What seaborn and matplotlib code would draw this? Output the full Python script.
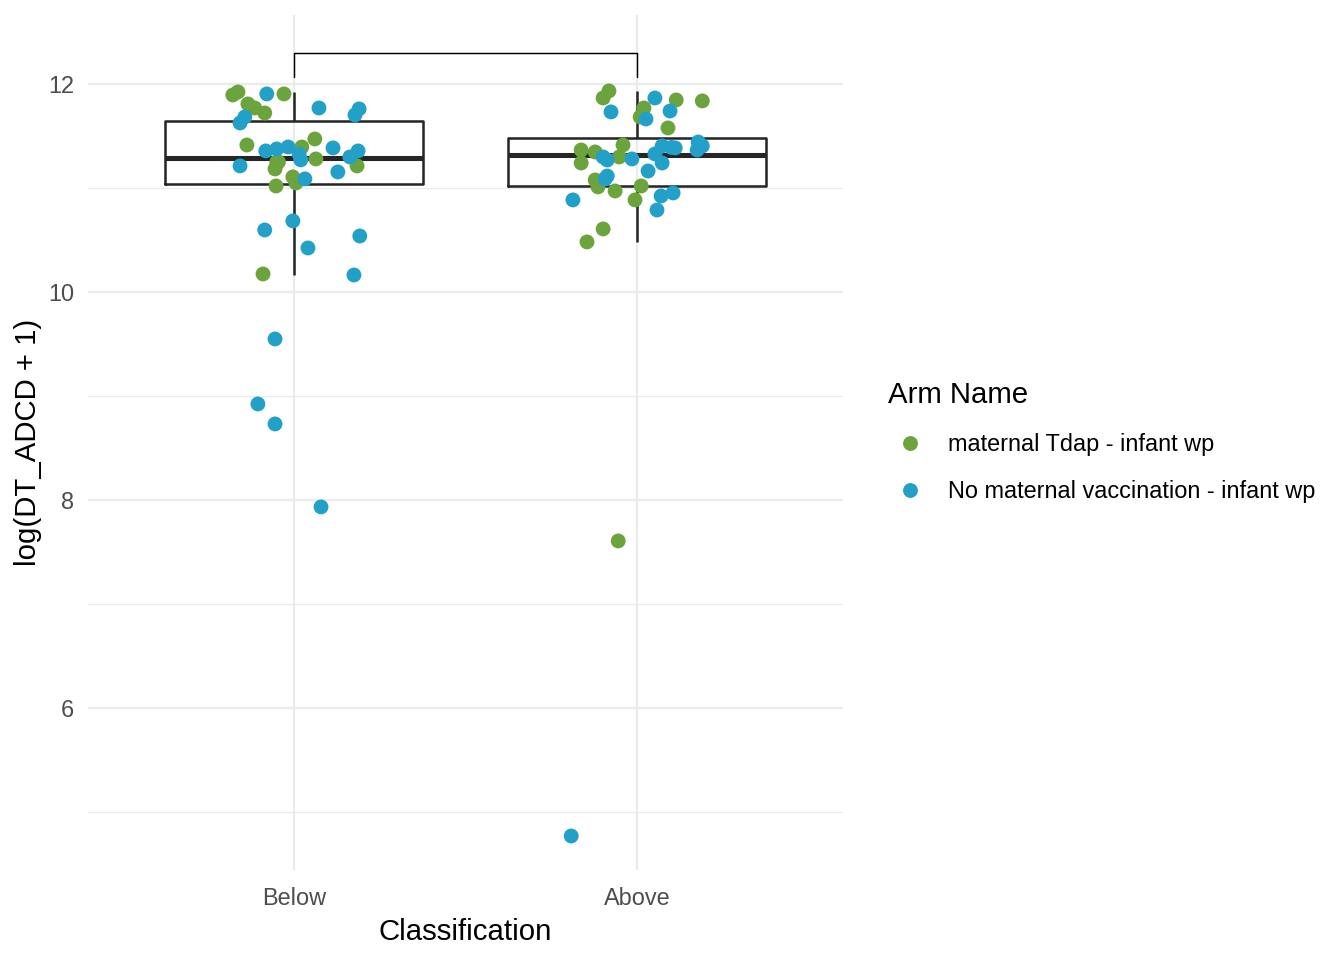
import numpy as np
import pandas as pd
import matplotlib
matplotlib.use("Agg")
import matplotlib.pyplot as plt
import seaborn as sns

classes = ["Below", "Above"]
arms = ["maternal Tdap - infant wp", "No maternal vaccination - infant wp"]
arm_colors = ["#6BA43C", "#22A0C8"]

# log(DT_ADCD + 1) per group, with the horizontal jitter of each point (category units)
below_tdap = [11.894, 11.923, 11.808, 11.769, 11.721, 11.904, 11.413, 11.471, 11.394,
              11.250, 11.183, 11.279, 11.212, 11.106, 11.048, 11.019, 10.173, 11.250]
below_tdap_jit = [-0.178, -0.163, -0.134, -0.114, -0.085, -0.029, -0.137, 0.061, 0.023,
                  -0.050, -0.055, 0.064, 0.184, -0.003, 0.006, -0.052, -0.090, -0.045]
below_none = [11.904, 11.769, 11.760, 11.702, 11.683, 11.625, 11.212, 11.356, 11.375,
              11.394, 11.327, 11.385, 11.298, 11.356, 11.154, 11.087, 10.683, 10.596,
              10.423, 10.538, 10.163, 9.548, 8.923, 8.731, 7.933, 11.270]
below_none_jit = [-0.079, 0.073, 0.190, 0.178, -0.143, -0.157, -0.157, -0.082, -0.050,
                  -0.017, 0.015, 0.114, 0.163, 0.187, 0.128, 0.032, -0.003, -0.085,
                  0.041, 0.192, 0.175, -0.055, -0.105, -0.055, 0.079, 0.020]
above_tdap = [11.933, 11.865, 11.769, 11.683, 11.846, 11.837, 11.577, 11.365, 11.240,
              11.346, 11.413, 11.298, 11.077, 11.010, 10.971, 11.019, 10.885, 10.481,
              10.606, 7.606]
above_tdap_jit = [-0.082, -0.099, 0.020, 0.009, 0.114, 0.190, 0.090, -0.163, -0.163,
                  -0.122, -0.041, -0.052, -0.122, -0.114, -0.064, 0.012, -0.006, -0.146,
                  -0.099, -0.055]
above_none = [11.865, 11.731, 11.740, 11.663, 11.298, 11.269, 11.279, 11.327, 11.404,
              11.385, 11.442, 11.404, 11.365, 11.240, 11.163, 11.115, 11.087, 10.885,
              10.923, 10.952, 10.788, 4.769, 11.413, 11.390]
above_none_jit = [0.052, -0.076, 0.096, 0.026, -0.099, -0.087, -0.015, 0.052, 0.073,
                  0.111, 0.178, 0.190, 0.175, 0.073, 0.032, -0.087, -0.093, -0.187,
                  0.070, 0.105, 0.058, -0.192, 0.185, 0.100]

# significance bracket between the two classes
bracket_y = 12.295
bracket_tip = 0.225

frames = []
for cls, arm, vals, jit in [
    ("Below", arms[0], below_tdap, below_tdap_jit),
    ("Above", arms[0], above_tdap, above_tdap_jit),
    ("Below", arms[1], below_none, below_none_jit),
    ("Above", arms[1], above_none, above_none_jit),
]:
    frames.append(pd.DataFrame({"Classification": cls, "Arm Name": arm,
                                "value": vals, "jitter": jit}))
df = pd.concat(frames, ignore_index=True)
df["pos"] = df["Classification"].map({c: i for i, c in enumerate(classes)})
df["xpos"] = df["pos"] + df["jitter"]

sns.set_theme(style="white")
plt.rcParams["font.family"] = ["Liberation Sans", "DejaVu Sans"]

fig = plt.figure(figsize=(7, 5), dpi=192)
ax = fig.add_axes([88 / 1344, 1 - 870 / 960, (843 - 88) / 1344, (870 - 15) / 960])

sns.boxplot(data=df, x="pos", y="value", native_scale=True, width=0.75, fill=False,
            color="#262626", linewidth=0.95, showfliers=False, showcaps=False,
            medianprops={"linewidth": 1.9}, ax=ax)
sns.scatterplot(data=df, x="xpos", y="value", hue="Arm Name", hue_order=arms,
                palette=arm_colors, s=31, linewidth=0, alpha=1, zorder=3, ax=ax)

ax.plot([0, 0, 1, 1],
        [bracket_y - bracket_tip, bracket_y, bracket_y, bracket_y - bracket_tip],
        color="black", linewidth=0.55, zorder=4)

ax.set_xlim(-0.6, 1.6)
ax.set_ylim(4.442, 12.663)
ax.set_xticks([0, 1], classes)
ax.set_yticks([6, 8, 10, 12])
ax.set_yticks([5, 7, 9, 11], minor=True)
ax.set_axisbelow(True)
ax.grid(which="major", color="#EBEBEB", linewidth=0.85)
ax.grid(which="minor", axis="y", color="#EBEBEB", linewidth=0.45)
ax.tick_params(which="both", length=0, labelsize=8.8, labelcolor="#4D4D4D")
ax.tick_params(axis="y", pad=5.2)
ax.tick_params(axis="x", pad=6.5)
for s in ax.spines.values():
    s.set_visible(False)
ax.set_xlabel("Classification", fontsize=11, color="black", labelpad=3)
ax.set_ylabel("log(DT_ADCD + 1)", fontsize=11, color="black", labelpad=2.2)

sns.move_legend(ax, "upper left", bbox_to_anchor=(888 / 1344, 1 - 381 / 960),
                bbox_transform=fig.transFigure, frameon=False, title="Arm Name",
                fontsize=8.8, title_fontsize=11, handlelength=1.87, handletextpad=0.68,
                labelspacing=1.02, borderpad=0, borderaxespad=0, alignment="left")
leg = ax.get_legend()
leg.get_title().set_color("black")
for t in leg.get_texts():
    t.set_color("black")

fig.savefig("out.png", dpi=192)
